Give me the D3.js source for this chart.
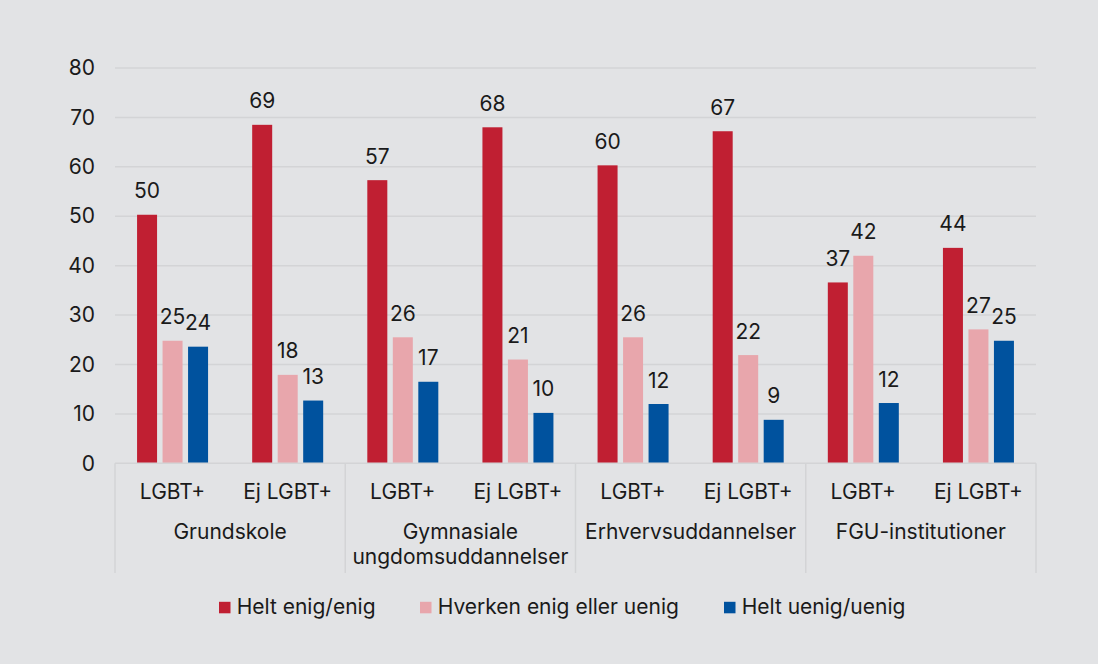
<!DOCTYPE html>
<html>
<head>
<meta charset="utf-8">
<script src="https://cdn.jsdelivr.net/npm/d3@7"></script>
<style>
  html, body { margin: 0; padding: 0; background: #e2e3e5; }
  svg { display: block; font-family: Inter, "Noto Sans", sans-serif; }
</style>
</head>
<body>
<svg id="chart" width="1098" height="664"></svg>
<script>
// ---- data ----
const groups = ["Grundskole", "Gymnasiale\nungdomsuddannelser", "Erhvervsuddannelser", "FGU-institutioner"];
const subgroups = ["LGBT+", "Ej LGBT+"];
const seriesNames = ["Helt enig/enig", "Hverken enig eller uenig", "Helt uenig/uenig"];
const seriesColors = ["#c01f32", "#e8a6ac", "#00529e"];
// values per series, in order: Grundskole LGBT+, Ej, Gym LGBT+, Ej, Erhv LGBT+, Ej, FGU LGBT+, Ej
const heltEnig   = [50.3, 68.5, 57.3, 68.0, 60.3, 67.2, 36.6, 43.6];
const hverken    = [24.8, 17.9, 25.5, 21.0, 25.5, 21.9, 42.0, 27.1];
const heltUenig  = [23.6, 12.7, 16.5, 10.2, 12.0,  8.8, 12.2, 24.8];
const labelsEnig   = [50, 69, 57, 68, 60, 67, 37, 44];
const labelsHverk  = [25, 18, 26, 21, 26, 22, 42, 27];
const labelsUenig  = [24, 13, 17, 10, 12, 9, 12, 25];
const yTicks = [0, 10, 20, 30, 40, 50, 60, 70, 80];

const seriesValues = [heltEnig, hverken, heltUenig];
const seriesLabels = [labelsEnig, labelsHverk, labelsUenig];

// ---- layout ----
const svg = d3.select("#chart");
const mLeft = 115, mRight = 1036, mTop = 68, mBottom = 463.3;
const FS = 21;

const cats = [];
groups.forEach((g, gi) => subgroups.forEach((s, si) => cats.push({g, gi, s, si, key: gi + "-" + si})));

const x = d3.scaleBand().domain(cats.map(c => c.key)).range([mLeft, mRight]).padding(0);
const xs = d3.scaleBand().domain(d3.range(3)).range([-35.5, 35.5]).paddingInner(0.2157).paddingOuter(0);
const y = d3.scaleLinear().domain([0, 80]).range([mBottom, mTop]);

// gridlines
svg.append("g").selectAll("line").data(yTicks.filter(t => t > 0)).join("line")
  .attr("x1", mLeft).attr("x2", mRight)
  .attr("y1", d => y(d)).attr("y2", d => y(d))
  .attr("stroke", "#d3d4d6").attr("stroke-width", 1.5);

// y axis labels
const yAxis = d3.axisLeft(y).tickValues(yTicks).tickSize(0).tickPadding(20);
const ya = svg.append("g").attr("transform", `translate(${mLeft},0)`).call(yAxis);
ya.select(".domain").remove();
ya.selectAll("text").attr("font-size", FS).attr("fill", "#1a1a1a")
  .attr("font-family", "Inter, 'Noto Sans', sans-serif");

// bars
const barData = [];
seriesValues.forEach((vals, si) => vals.forEach((v, ci) => barData.push({si, ci, v, lab: seriesLabels[si][ci]})));

svg.append("g").selectAll("rect").data(barData).join("rect")
  .attr("x", d => x(cats[d.ci].key) + x.bandwidth() / 2 + xs(d.si))
  .attr("width", xs.bandwidth())
  .attr("y", d => y(d.v))
  .attr("height", d => y(0) - y(d.v))
  .attr("fill", d => seriesColors[d.si]);

// value labels
svg.append("g").selectAll("text").data(barData).join("text")
  .attr("x", d => x(cats[d.ci].key) + x.bandwidth() / 2 + xs(d.si) + xs.bandwidth() / 2)
  .attr("y", d => y(d.v) - 16.5)
  .attr("text-anchor", "middle")
  .attr("font-size", FS).attr("fill", "#1a1a1a")
  .text(d => d.lab);

// bottom axis line
svg.append("line").attr("x1", mLeft).attr("x2", mRight).attr("y1", mBottom).attr("y2", mBottom)
  .attr("stroke", "#d3d4d6").attr("stroke-width", 1.5);

// group separators
const sepX = [mLeft].concat(groups.map((g, gi) => x(gi + "-1") + x.bandwidth()));
svg.append("g").selectAll("line").data(sepX).join("line")
  .attr("x1", d => d).attr("x2", d => d).attr("y1", mBottom).attr("y2", 573)
  .attr("stroke", "#d3d4d6").attr("stroke-width", 1.5);

// subgroup labels
svg.append("g").selectAll("text").data(cats).join("text")
  .attr("x", d => x(d.key) + x.bandwidth() / 2)
  .attr("y", 498.5)
  .attr("text-anchor", "middle").attr("font-size", FS).attr("fill", "#1a1a1a")
  .text(d => d.s);

// group labels
const gl = svg.append("g").selectAll("text").data(groups).join("text")
  .attr("x", (d, gi) => x(gi + "-0") + x.bandwidth())
  .attr("y", 539.3)
  .attr("text-anchor", "middle").attr("font-size", FS).attr("fill", "#1a1a1a");
gl.each(function(d) {
  const t = d3.select(this);
  d.split("\n").forEach((line, i) => {
    t.append("tspan").attr("x", t.attr("x")).attr("dy", i === 0 ? 0 : 24.5).text(line);
  });
});

// legend
const legendX = [219, 420, 724];
const lg = svg.append("g").selectAll("g").data(seriesNames).join("g")
  .attr("transform", (d, i) => `translate(${legendX[i]},0)`);
lg.append("rect").attr("x", 0).attr("y", 601.8).attr("width", 11.5).attr("height", 11.5)
  .attr("fill", (d, i) => seriesColors[i]);
lg.append("text").attr("x", 17.7).attr("y", 614).attr("font-size", FS).attr("fill", "#1a1a1a")
  .text(d => d);
</script>
</body>
</html>
